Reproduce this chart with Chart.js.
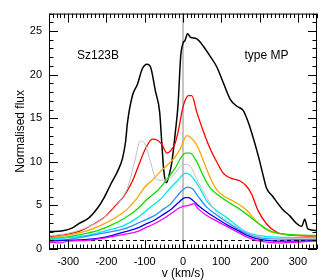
<!DOCTYPE html>
<html>
<head>
<meta charset="utf-8">
<script src="https://cdn.jsdelivr.net/npm/chart.js@4"></script>
<style>
  html, body { margin: 0; padding: 0; background: #fff; }
  #wrap { width: 327px; height: 280px; }
</style>
</head>
<body>
<div id="wrap"><canvas id="chart" width="327" height="280"></canvas></div>
<script>
// tick labels
var xTicks = [-300, -200, -100, 0, 100, 200, 300];
var yTicks = [0, 5, 10, 15, 20, 25];

// velocity (km/s) and normalised flux, one pair per profile
var blackV = [-350,-314,-290,-272,-245,-223,-206,-189,-171,-158,-150,-145,-132,-119,-106,-94,-85,-72,-61,-55,-50,-43,-36,-29,-20,-13,-6,0,5,12,19,36,54,71,88,105,123,140,157,170,179,196,209,218,235,248,261,279,295,310,318,326,350];
var blackF = [2.0,2.1,2.4,2.9,3.6,4.7,5.9,7.4,8.9,10.4,12.3,14.5,17.6,18.9,20.7,21.2,20.9,18.1,15.7,11.9,8.9,7.6,8.5,10.0,13.4,16.5,22.1,23.6,23.9,24.7,24.3,24.1,23.2,22.1,20.9,19.1,17.2,16.4,15.9,14.6,13.4,10.8,8.5,7.0,6.0,5.2,4.5,3.8,3.0,2.6,3.4,2.3,2.1];

var redV = [-350,-301,-267,-232,-206,-180,-154,-132,-115,-98,-80,-68,-55,-42,-30,-20,-11,-3,5,15,23,36,54,71,88,105,123,149,166,179,196,218,244,279,350];
var redF = [1.4,1.7,2.1,2.9,3.6,4.8,6.1,7.8,9.7,11.5,12.6,12.5,12.0,11.0,11.4,12.2,13.8,15.7,17.0,17.6,17.6,15.7,13.4,11.5,10.0,8.7,8.15,7.8,7.2,6.3,4.4,2.9,1.95,1.6,1.47];

var orangeV = [-350,-301,-249,-215,-180,-145,-119,-98,-80,-59,-37,-20,-7,10,20,35,50,65,75,88,105,131,157,170,183,196,209,222,235,260,300,350];
var orangeF = [1.3,1.6,2.1,2.7,3.5,4.6,5.9,7.2,7.9,8.9,9.8,10.6,11.5,13.0,12.8,12.0,10.5,8.8,7.8,6.8,6.1,5.5,4.8,4.3,3.6,3.0,2.5,2.1,1.9,1.7,1.6,1.5];

var greenV = [-350,-300,-275,-223,-189,-154,-119,-94,-68,-42,-20,-5,6,19,36,54,71,88,114,140,166,192,218,244,280,350];
var greenF = [1.2,1.4,1.6,2.1,2.7,3.5,4.6,5.7,6.65,8.0,9.3,10.5,11.0,11.0,10.0,8.3,7.0,6.3,5.5,4.8,4.0,3.1,2.3,1.84,1.65,1.55];

var grayV = [-350,-300,-250,-200,-170,-154,-145,-128,-111,-98,-85,-72,-63,-46,-24,-7,6,19,36,62,88,114,149,183,220,350];
var grayF = [1.5,1.8,2.5,3.8,5.2,6.2,7.0,9.7,12.4,11.9,10.0,8.15,7.9,7.9,8.5,9.5,9.7,9.5,8.0,5.9,4.2,3.3,2.3,1.6,1.3,1.2];

var cyanV = [-350,-300,-258,-200,-154,-119,-85,-59,-33,-11,6,19,41,62,88,114,140,166,192,230,350];
var cyanF = [1.1,1.3,1.5,2.1,2.7,3.6,4.8,5.7,7.0,8.0,8.7,8.5,7.2,5.5,4.4,3.6,2.7,1.95,1.6,1.4,1.3];

var skyV = [-350,-300,-215,-154,-111,-76,-50,-33,-15,0,12,25,40,62,88,114,140,166,192,220,350];
var skyF = [1.0,1.1,1.77,2.3,3.1,3.8,4.6,5.15,6.1,6.8,7.1,6.9,6.0,4.8,3.9,3.1,2.4,1.8,1.4,1.2,1.1];

var blueV = [-350,-300,-250,-200,-150,-120,-100,-75,-50,-30,-10,5,15,25,40,60,88,114,140,166,192,220,260,300,350];
var blueF = [0.9,1.0,1.1,1.4,2.0,2.4,2.8,3.3,4.0,4.6,5.4,5.9,5.9,5.6,5.0,4.3,3.5,2.8,2.2,1.6,1.2,1.0,0.9,0.9,1.0];

var magentaV = [-350,-320,-300,-250,-200,-150,-120,-100,-75,-50,-30,-10,0,15,28,40,60,88,114,140,166,192,220,260,300,350];
var magentaF = [0.8,0.7,0.9,1.0,1.3,1.7,2.0,2.4,2.9,3.5,4.1,4.7,4.9,5.0,5.2,4.6,3.9,3.2,2.6,2.0,1.4,1.0,0.8,0.7,0.8,0.9];

var FONT = '"Liberation Sans", Arial, Helvetica, sans-serif';

function pts(v, f) {
    return v.map(function (x, i) { return { x: x, y: f[i] }; });
}

function line(v, f, color, width) {
    return {
        data: pts(v, f),
        borderColor: color,
        borderWidth: width,
        pointRadius: 0,
        fill: false,
        cubicInterpolationMode: 'monotone'
    };
}

// zero-velocity line, continuum line, inward ticks, frame and labels
var decorations = {
    id: 'decorations',
    beforeDatasetsDraw: function (chart) {
        var ctx = chart.ctx, a = chart.chartArea, xs = chart.scales.x, ys = chart.scales.y;
        ctx.save();
        ctx.strokeStyle = '#c4c4c4';
        ctx.lineWidth = 2;
        var x0 = Math.round(xs.getPixelForValue(0));
        ctx.beginPath();
        ctx.moveTo(x0, a.top);
        ctx.lineTo(x0, a.bottom);
        ctx.stroke();

        ctx.strokeStyle = '#000';
        ctx.lineWidth = 1;
        ctx.setLineDash([4, 3]);
        var y1 = Math.round(ys.getPixelForValue(1)) + 0.5;
        ctx.beginPath();
        ctx.moveTo(a.left, y1);
        ctx.lineTo(a.right, y1);
        ctx.stroke();
        ctx.restore();
    },
    afterDraw: function (chart) {
        var ctx = chart.ctx, a = chart.chartArea, xs = chart.scales.x, ys = chart.scales.y;
        ctx.save();
        ctx.strokeStyle = '#000';
        ctx.lineWidth = 1;
        ctx.beginPath();
        for (var v = -350; v <= 350; v += 10) {
            var px = Math.round(xs.getPixelForValue(v)) + 0.5;
            var len = (v % 100 === 0) ? 9 : 4.5;
            ctx.moveTo(px, a.bottom);
            ctx.lineTo(px, a.bottom - len);
            ctx.moveTo(px, a.top);
            ctx.lineTo(px, a.top + len);
        }
        for (var f = 0; f <= 27; f += 1) {
            var py = Math.round(ys.getPixelForValue(f)) + 0.5;
            var ln = (f % 5 === 0) ? 9 : 4.5;
            ctx.moveTo(a.left, py);
            ctx.lineTo(a.left + ln, py);
            ctx.moveTo(a.right, py);
            ctx.lineTo(a.right - ln, py);
        }
        ctx.stroke();
        ctx.strokeRect(a.left + 0.5, a.top + 0.5, a.right - a.left - 1, a.bottom - a.top - 1);

        ctx.fillStyle = '#000';
        ctx.font = '12px ' + FONT;
        ctx.textAlign = 'center';
        ctx.textBaseline = 'middle';
        ctx.fillText('Sz123B', xs.getPixelForValue(-222), ys.getPixelForValue(22.2));
        ctx.fillText('type MP', xs.getPixelForValue(218), ys.getPixelForValue(22.2));
        ctx.restore();
    }
};

new Chart(document.getElementById('chart'), {
    type: 'line',
    data: {
        datasets: [
            line(grayV, grayF, '#c0c0c0', 1),
            line(magentaV, magentaF, '#ff00ff', 1.3),
            line(blueV, blueF, '#0000ee', 1.3),
            line(skyV, skyF, '#2a90ff', 1.3),
            line(cyanV, cyanF, '#00e8f0', 1.3),
            line(greenV, greenF, '#14dd00', 1.3),
            line(orangeV, orangeF, '#ffa500', 1.3),
            line(redV, redF, '#ff0000', 1.3),
            line(blackV, blackF, '#000000', 1.5)
        ]
    },
    options: {
        responsive: false,
        animation: false,
        layout: { padding: { top: 9, right: 10, left: 0, bottom: 0 } },
        plugins: {
            legend: { display: false },
            tooltip: { enabled: false }
        },
        scales: {
            x: {
                type: 'linear',
                min: -350,
                max: 350,
                afterBuildTicks: function (s) { s.ticks = xTicks.map(function (v) { return { value: v }; }); },
                afterFit: function (s) { s.height = 31; },
                grid: { display: false, drawTicks: false },
                border: { display: false },
                ticks: { color: '#000', padding: 6, maxRotation: 0, font: { family: FONT, size: 11 } },
                title: { display: true, text: 'v (km/s)', color: '#000', padding: { top: 0, bottom: -1 }, font: { family: FONT, size: 12 } }
            },
            y: {
                type: 'linear',
                min: 0,
                max: 27,
                afterBuildTicks: function (s) { s.ticks = yTicks.map(function (v) { return { value: v }; }); },
                afterFit: function (s) { s.width = 49; },
                grid: { display: false, drawTicks: false },
                border: { display: false },
                ticks: { color: '#000', padding: 7, font: { family: FONT, size: 11 } },
                title: { display: true, text: 'Normalised flux', color: '#000', padding: { top: 13, bottom: 0 }, font: { family: FONT, size: 12 } }
            }
        }
    },
    plugins: [decorations]
});
</script>
</body>
</html>
